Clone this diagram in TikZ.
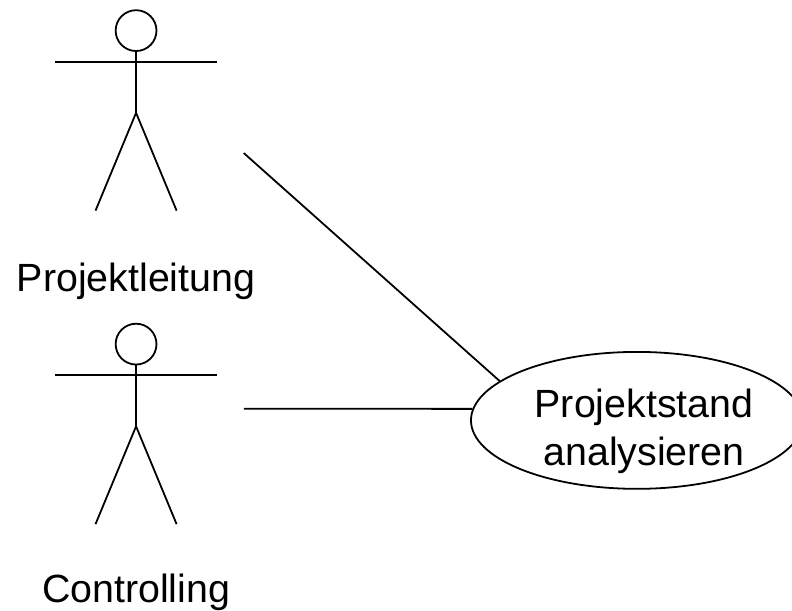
\documentclass[tikz,border=0pt]{standalone}
\usepackage{fontspec}
\setmainfont{Liberation Sans}
\usetikzlibrary{shapes.geometric}
\tikzset{
 usecase/.style={draw,ellipse,line width=1.8pt,minimum width=11.71cm,minimum height=4.83cm,inner sep=0pt},
 label/.style={font=\fontsize{39.5}{48}\selectfont,inner sep=0pt,align=center},
 limb/.style={line width=1.8pt},
 torso/.style={line width=2.6pt}
}
% one stick figure, head centre at #1,#2
\newcommand{\actor}[2]{
 \draw[limb] (#1,#2) circle (0.72);
 \draw[limb] (#1-2.85,#2-1.1) -- (#1+2.85,#2-1.1);
 \draw[torso] (#1,#2-0.72) -- (#1,#2-2.9);
 \draw[limb] (#1,#2-2.9) -- (#1-1.43,#2-6.35);
 \draw[limb] (#1,#2-2.9) -- (#1+1.43,#2-6.35);
}
\begin{document}
\begin{tikzpicture}[x=1cm,y=1cm]
 \useasboundingbox (0,0) rectangle (27.94,21.52);
 \clip (0,0) rectangle (27.94,21.52);
 \actor{4.8}{20.44}
 \actor{4.8}{9.38}
 \node[label] (leitung) at (4.8,11.58) {Projektleitung};
 \node[label] (controlling) at (4.8,0.62) {Controlling};
 \node[usecase] (stand) at (22.47,6.69) {};
 \node[label] (standtext) at (22.72,6.31) {Projektstand\\analysieren};
 \coordinate (a) at (8.6,16.12);
 \coordinate (b) at (8.6,7.1);
 \draw[limb] (a) -- (stand.164);
 \draw[limb] (b) -- (stand.176);
\end{tikzpicture}
\end{document}
